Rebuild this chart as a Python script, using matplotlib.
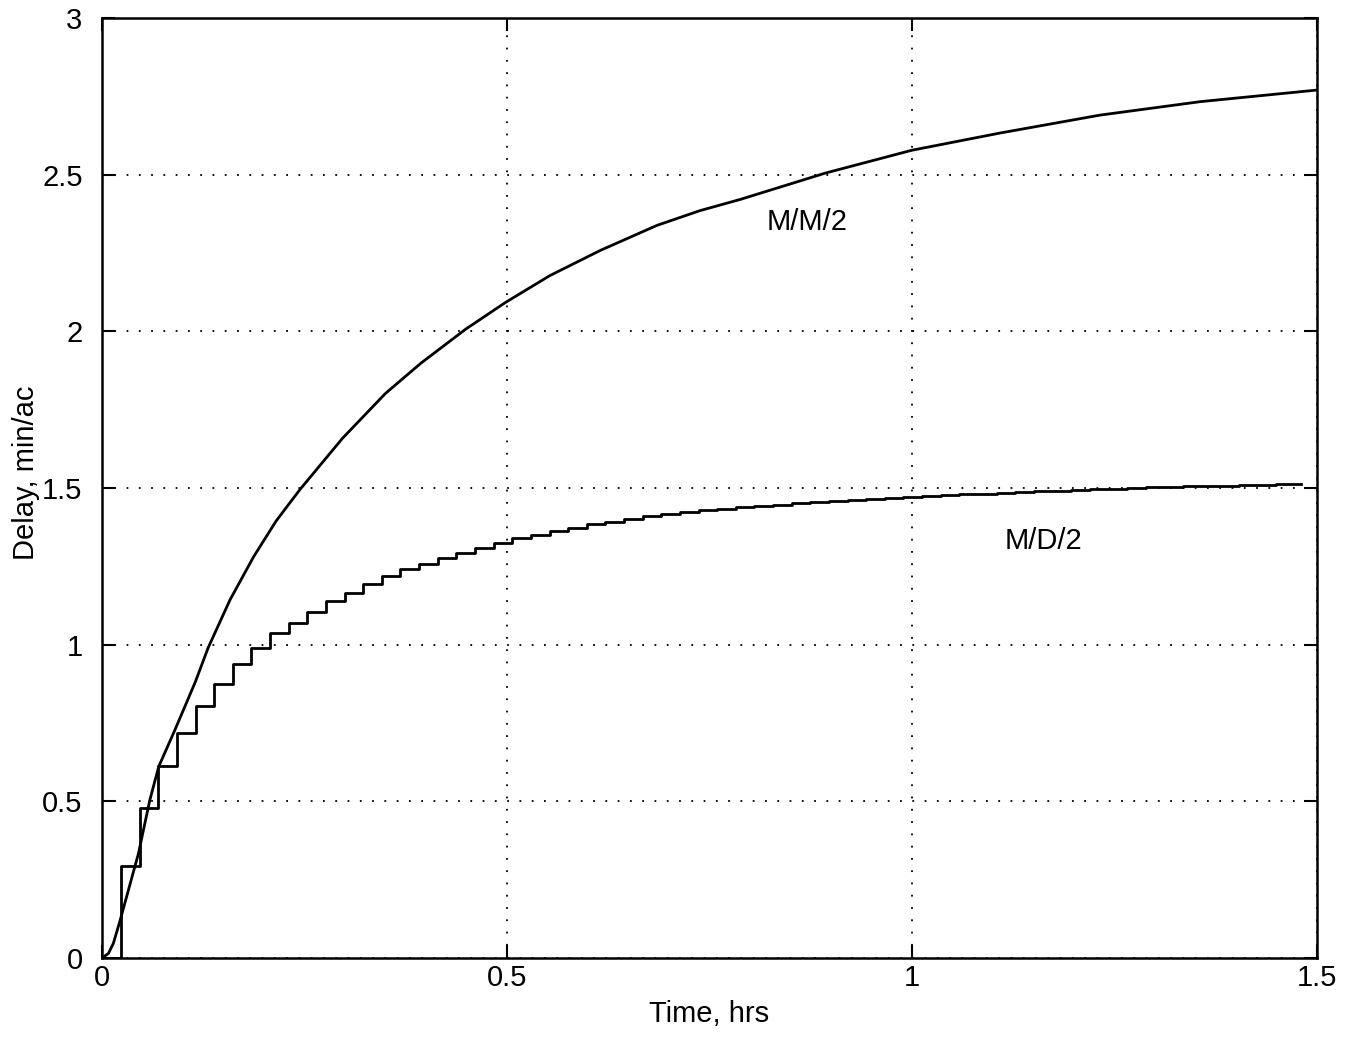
import matplotlib
matplotlib.use('Agg')
import matplotlib.pyplot as plt
from matplotlib.ticker import FormatStrFormatter, MultipleLocator

plt.rcParams['font.family'] = ['Liberation Sans', 'DejaVu Sans']

# M/M/2 curve
mm2_t = [0, 0.008, 0.014, 0.022, 0.045, 0.059, 0.070, 0.090, 0.115, 0.131,
         0.158, 0.187, 0.215, 0.244, 0.297, 0.350, 0.394, 0.449, 0.498, 0.553,
         0.615, 0.685, 0.738, 0.788, 0.893, 1.0, 1.109, 1.232, 1.356, 1.5]
mm2_delay = [0, 0.015, 0.047, 0.117, 0.334, 0.504, 0.611, 0.728, 0.880, 0.990,
             1.143, 1.280, 1.395, 1.494, 1.659, 1.802, 1.899, 2.007, 2.092, 2.178,
             2.258, 2.338, 2.385, 2.421, 2.505, 2.578, 2.633, 2.690, 2.733, 2.770]

# M/D/2 staircase: times where each step rises, and the level after the rise
md2_edges = [0.0235, 0.0465, 0.0695, 0.0925, 0.1155, 0.1385, 0.1615, 0.1845,
             0.2075, 0.2305, 0.2535, 0.2765, 0.2995, 0.3225, 0.3455, 0.3685,
             0.3915, 0.4145, 0.4375, 0.4605, 0.4835, 0.5065, 0.5295, 0.5525,
             0.5755, 0.5985, 0.6215, 0.6445, 0.6675, 0.6905, 0.7135, 0.7365,
             0.7595, 0.7825, 0.8055, 0.8285, 0.8515, 0.8745, 0.8975, 0.9205,
             0.9435, 0.9665, 0.9895, 1.0125, 1.0355, 1.0585, 1.0815, 1.1045,
             1.1275, 1.1505, 1.1735, 1.1965, 1.2195, 1.2425, 1.2655, 1.2885,
             1.3115, 1.3345, 1.3575, 1.3805, 1.4035, 1.4265, 1.4495, 1.4725]
md2_levels = [0.294, 0.479, 0.613, 0.718, 0.804, 0.874, 0.938, 0.989,
              1.037, 1.070, 1.105, 1.140, 1.166, 1.195, 1.220, 1.240,
              1.259, 1.276, 1.292, 1.308, 1.324, 1.339, 1.349, 1.362,
              1.372, 1.384, 1.392, 1.401, 1.410, 1.418, 1.425, 1.429,
              1.434, 1.438, 1.442, 1.447, 1.451, 1.455, 1.458, 1.462,
              1.465, 1.468, 1.471, 1.474, 1.477, 1.480, 1.482, 1.485,
              1.487, 1.490, 1.492, 1.494, 1.496, 1.498, 1.500, 1.502,
              1.504, 1.505, 1.507, 1.508, 1.510, 1.511, 1.513, 1.514]
md2_end = 1.48

fig = plt.figure(figsize=(13.64, 10.4), dpi=100)
ax = fig.add_axes([0.0748, 0.0788, 0.8907, 0.9039])

ax.plot(mm2_t, mm2_delay, color='black', lw=2.0)
ax.plot([0] + md2_edges + [md2_end], [0] + md2_levels + [md2_levels[-1]],
        color='black', lw=2.0, drawstyle='steps-post')

ax.text(0.870, 2.35, 'M/M/2', fontsize=21, ha='center', va='center')
ax.text(1.163, 1.33, 'M/D/2', fontsize=21, ha='center', va='center')

ax.set_xlim(0, 1.5)
ax.set_ylim(0, 3)
ax.xaxis.set_major_locator(MultipleLocator(0.5))
ax.yaxis.set_major_locator(MultipleLocator(0.5))
ax.xaxis.set_major_formatter(FormatStrFormatter('%g'))
ax.yaxis.set_major_formatter(FormatStrFormatter('%g'))

ax.grid(True, color='black', lw=1.3, linestyle=(0, (1, 5.8)))
ax.tick_params(direction='in', length=9.5, width=1.5, labelsize=21,
               top=True, right=True)
ax.tick_params(axis='x', pad=4)
ax.tick_params(axis='y', pad=14)
for s in ax.spines.values():
    s.set_linewidth(1.8)

ax.set_xlabel('Time, hrs', fontsize=21, labelpad=6)
ax.set_ylabel('Delay, min/ac', fontsize=21)
ax.yaxis.set_label_coords(-0.051, 0.516)

fig.savefig('out.png', dpi=100)
